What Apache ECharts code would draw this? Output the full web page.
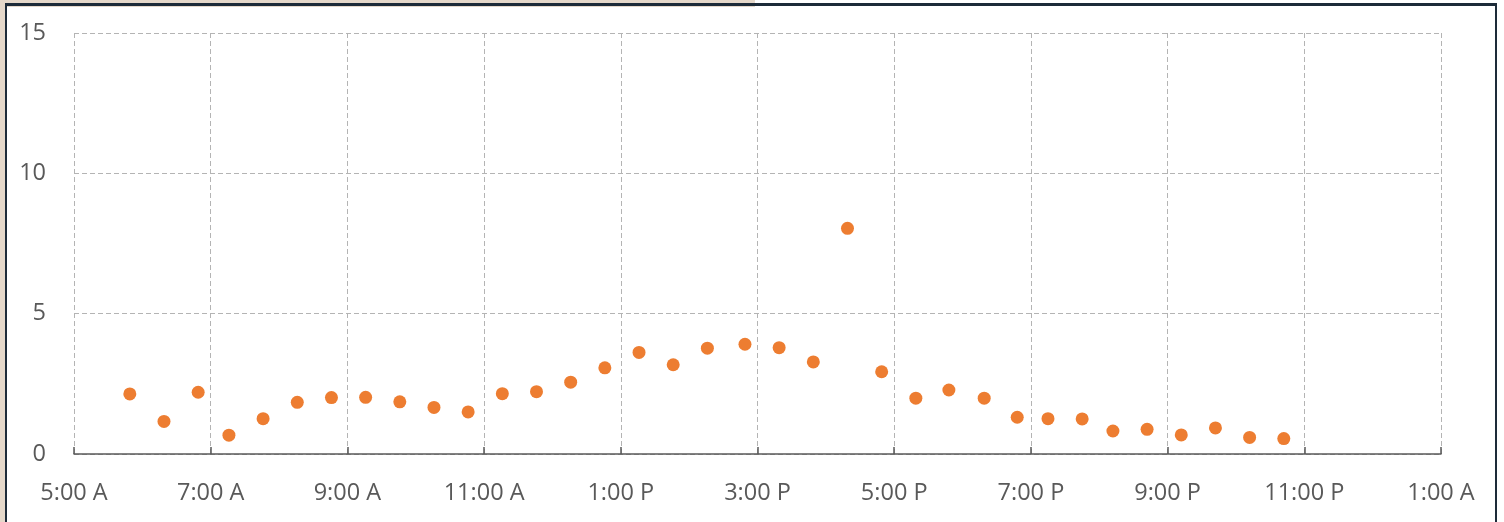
<!DOCTYPE html>
<html>
<head>
<meta charset="utf-8">
<script src="https://cdn.jsdelivr.net/npm/echarts@6/dist/echarts.min.js"></script>
<style>
  html, body { margin: 0; padding: 0; background: #ffffff; width: 1504px; height: 522px; overflow: hidden; }
  #beigeTop { position: absolute; left: 0; top: 0; width: 755px; height: 7px; background: #e5d8ca; }
  #beigeLeft { position: absolute; left: 0; top: 0; width: 5px; height: 522px; background: #e5d8ca; }
  #frame { position: absolute; left: 5px; top: 3px; width: 1492px; height: 522px; box-sizing: border-box;
           border-top: 3px solid #1d2b39; border-left: 2px solid #1d2b39; border-right: 2px solid #1d2b39; border-bottom: 3px solid #1d2b39; }
  #chart { position: absolute; left: 0; top: 0; width: 1504px; height: 522px; }
</style>
</head>
<body>
<div id="beigeTop"></div>
<div id="beigeLeft"></div>
<div id="frame"></div>
<div id="chart"></div>
<script>
// Reading times (24h clock) and values
const times = ["5:49","6:19","6:49","7:16","7:46","8:16","8:46","9:16","9:46","10:16",
               "10:46","11:16","11:46","12:16","12:46","13:16","13:46","14:16","14:49","15:19",
               "15:49","16:19","16:49","17:19","17:48","18:19","18:48","19:15","19:45","20:12",
               "20:42","21:12","21:42","22:12","22:42"];
const values = [2.14,1.16,2.20,0.67,1.26,1.84,2.01,2.02,1.86,1.66,
                1.50,2.15,2.22,2.56,3.07,3.62,3.18,3.77,3.91,3.79,
                3.28,8.04,2.93,1.99,2.28,1.99,1.31,1.26,1.25,0.82,
                0.88,0.68,0.93,0.59,0.55];
// x axis: hours since midnight, ticks every 2 hours from 5:00 A to 1:00 A
const xMin = 5, xMax = 25, xStep = 2;
const yMin = 0, yMax = 15, yStep = 5;

function toHours(t) { const p = t.split(":"); return +p[0] + (+p[1]) / 60; }
function hourLabel(v) {
  let h = Math.round(v) % 24;
  const suffix = h < 12 ? "A" : "P";
  let h12 = h % 12; if (h12 === 0) h12 = 12;
  return h12 + ":00 " + suffix;
}

const data = times.map((t, i) => [toHours(t), values[i]]);
const labelFont = "'Open Sans', 'Noto Sans', sans-serif";

const chart = echarts.init(document.getElementById('chart'), null, { renderer: 'canvas' });
chart.setOption({
  animation: false,
  backgroundColor: 'transparent',
  grid: { left: 74, right: 63, top: 33, bottom: 68, containLabel: false },
  xAxis: {
    type: 'value', min: xMin, max: xMax, interval: xStep,
    axisLine: { show: true, lineStyle: { color: '#595959', width: 1.5 } },
    axisTick: { show: true, inside: true, length: 7, lineStyle: { color: '#595959', width: 1.5 } },
    axisLabel: { formatter: hourLabel, color: '#595959', fontSize: 23.5, fontFamily: labelFont, margin: 27 },
    splitLine: { show: true, lineStyle: { color: '#b4b4b4', type: [5, 3], width: 1 } }
  },
  yAxis: {
    type: 'value', min: yMin, max: yMax, interval: yStep,
    axisLine: { show: false }, axisTick: { show: false },
    axisLabel: { color: '#595959', fontSize: 23.5, fontFamily: labelFont, margin: 28 },
    splitLine: { show: true, lineStyle: { color: '#b4b4b4', type: [5, 3], width: 1 } }
  },
  series: [{
    type: 'scatter',
    data: data,
    symbol: 'circle',
    symbolSize: 13,
    itemStyle: { color: '#ED7D31', opacity: 1 }
  }]
});
</script>
</body>
</html>
